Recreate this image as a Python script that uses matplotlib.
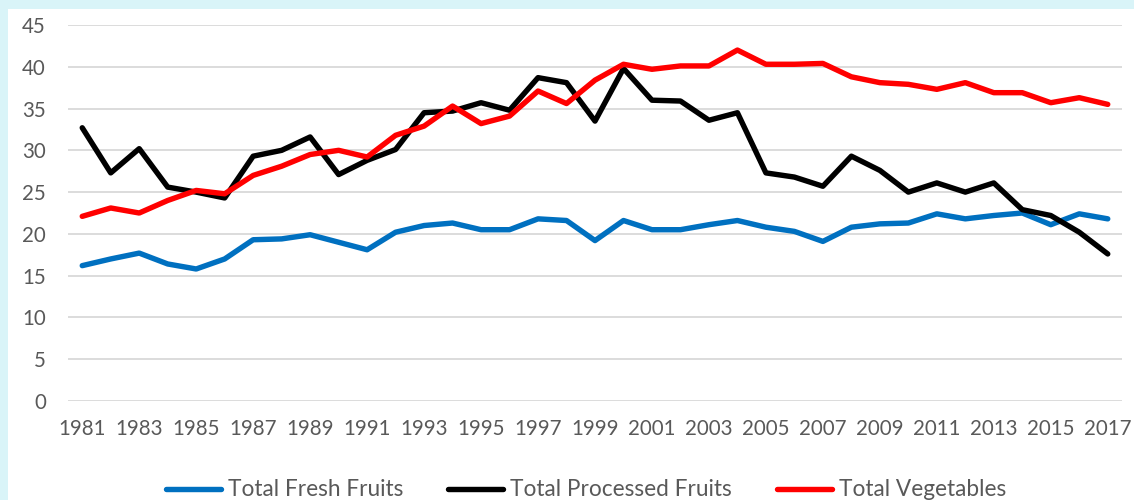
import matplotlib.pyplot as plt
from matplotlib.patches import Rectangle

# Data
years = list(range(1981, 2018))
fresh_fruits = [16.2, 17.0, 17.7, 16.4, 15.8, 17.0, 19.3, 19.4, 19.9, 19.0,
                18.1, 20.2, 21.0, 21.3, 20.5, 20.5, 21.8, 21.6, 19.2, 21.6,
                20.5, 20.5, 21.1, 21.6, 20.8, 20.3, 19.1, 20.8, 21.2, 21.3,
                22.4, 21.8, 22.2, 22.5, 21.1, 22.4, 21.8]
processed_fruits = [32.7, 27.3, 30.2, 25.6, 25.0, 24.3, 29.3, 30.0, 31.6, 27.1,
                    28.8, 30.1, 34.5, 34.7, 35.7, 34.8, 38.7, 38.1, 33.5, 39.8,
                    36.0, 35.9, 33.6, 34.5, 27.3, 26.8, 25.7, 29.3, 27.6, 25.0,
                    26.1, 25.0, 26.1, 22.9, 22.2, 20.2, 17.6]
vegetables = [22.1, 23.1, 22.5, 24.0, 25.2, 24.8, 27.0, 28.1, 29.5, 30.0,
              29.2, 31.8, 32.9, 35.3, 33.2, 34.1, 37.1, 35.6, 38.4, 40.3,
              39.7, 40.1, 40.1, 42.0, 40.3, 40.3, 40.4, 38.8, 38.1, 37.9,
              37.3, 38.1, 36.9, 36.9, 35.7, 36.3, 35.5]
xtick_years = list(range(1981, 2018, 2))
yticks = list(range(0, 46, 5))

plt.rcParams['font.family'] = ['Lato', 'DejaVu Sans']

fig = plt.figure(figsize=(11.34, 5), dpi=100, facecolor='#d9f4f8')
# white chart area, cyan strip left and top
fig.patches.append(Rectangle((8 / 1134, 0), 1, 491 / 500, transform=fig.transFigure,
                             facecolor='white', edgecolor='none', zorder=-5))

ax = fig.add_axes([68 / 1134, 99 / 500, 1054 / 1134, 376 / 500])
ax.set_facecolor('white')

ax.plot(years, fresh_fruits, label='Total Fresh Fruits', color='#0070c0', lw=3.9,
        solid_joinstyle='round', solid_capstyle='round')
ax.plot(years, processed_fruits, label='Total Processed Fruits', color='black', lw=3.9,
        solid_joinstyle='round', solid_capstyle='round')
ax.plot(years, vegetables, label='Total Vegetables', color='#ff0000', lw=3.9,
        solid_joinstyle='round', solid_capstyle='round')

ax.set_xlim(1980.5, 2017.5)
ax.set_ylim(0, 45)
ax.set_xticks(xtick_years)
ax.set_yticks(yticks)
ax.tick_params(axis='both', length=0, labelsize=14.8, colors='#595959')
ax.tick_params(axis='x', pad=13)
ax.tick_params(axis='y', pad=16)
ax.yaxis.grid(True, color='#d9d9d9', lw=1.3)
ax.set_axisbelow(True)
for s in ax.spines.values():
    s.set_visible(False)

fig.legend(loc='center', bbox_to_anchor=(586 / 1134, 10 / 500), ncol=3, frameon=False,
           fontsize=16.3, labelcolor='#595959', handlelength=2.43, handletextpad=0.3,
           columnspacing=2.0)

fig.savefig('out.png', dpi=100, facecolor=fig.get_facecolor())
